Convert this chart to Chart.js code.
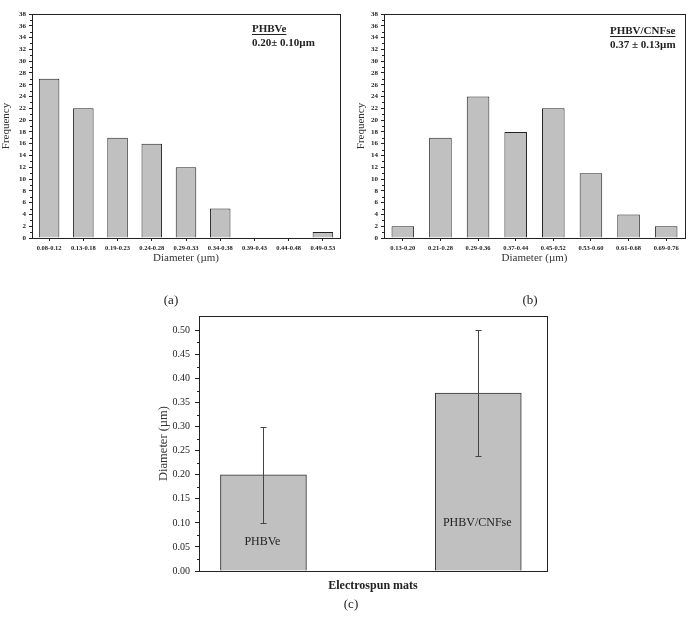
<!DOCTYPE html>
<html>
<head>
<meta charset="utf-8">
<script src="https://cdn.jsdelivr.net/npm/chart.js@4.4.0/dist/chart.umd.min.js"></script>
<style>
  body{margin:0;background:#fff;}
  #wrap{position:relative;width:697px;height:619px;font-family:"Liberation Serif",serif;color:#222;}
  canvas{position:absolute;}
  .cap{position:absolute;font-size:13px;transform:translate(-50%,-50%);white-space:nowrap;}
</style>
</head>
<body>
<div id="wrap">
  <canvas id="chartA" width="345" height="270" style="left:0;top:0"></canvas>
  <canvas id="chartB" width="352" height="270" style="left:345px;top:0"></canvas>
  <canvas id="chartC" width="410" height="295" style="left:150px;top:305px"></canvas>
  <div class="cap" style="left:171px;top:300px">(a)</div>
  <div class="cap" style="left:530px;top:300px">(b)</div>
  <div class="cap" style="left:351px;top:604px">(c)</div>
</div>
<script>
// dados
const binsA = ['0.08-0.12','0.13-0.18','0.19-0.23','0.24-0.28','0.29-0.33','0.34-0.38','0.39-0.43','0.44-0.48','0.49-0.53'];
const freqA = [27, 22, 17, 16, 12, 5, 0, 0, 1];
const binsB = ['0.13-0.20','0.21-0.28','0.29-0.36','0.37-0.44','0.45-0.52','0.53-0.60','0.61-0.68','0.69-0.76'];
const freqB = [2, 17, 24, 18, 22, 11, 4, 2];
const mats = ['PHBVe', 'PHBV/CNFse'];
const meanDiam = [0.20, 0.37];
const sdDiam = [0.10, 0.13];

const SERIF = '"Liberation Serif", "Times New Roman", serif';
const INK = '#222';
Chart.defaults.font.family = SERIF;
Chart.defaults.animation = false;

// moldura + ticks menores
const framePlugin = {
  id: 'frame',
  afterDraw(chart, args, opts){
    const {ctx, chartArea:a, scales:{y}} = chart;
    ctx.save();
    ctx.strokeStyle = INK;
    ctx.lineWidth = 1;
    ctx.strokeRect(Math.round(a.left)+0.5, Math.round(a.top)+0.5, Math.round(a.right-a.left), Math.round(a.bottom-a.top));
    // ticks menores entre os maiores
    const t = y.ticks;
    ctx.beginPath();
    for (let i = 0; i < t.length-1; i++){
      const py = Math.round(y.getPixelForValue((t[i].value + t[i+1].value)/2)) + 0.5;
      ctx.moveTo(a.left - (opts.minor || 2), py);
      ctx.lineTo(a.left, py);
    }
    ctx.stroke();
    ctx.restore();
  }
};

// texto de anotação (nome + média ± dp)
const notesPlugin = {
  id: 'notes',
  afterDraw(chart, args, opts){
    if (!opts.lines) return;
    const ctx = chart.ctx;
    ctx.save();
    ctx.font = 'bold 11px ' + SERIF;
    ctx.fillStyle = INK;
    ctx.textBaseline = 'middle';
    opts.lines.forEach((txt, i) => {
      const y = opts.y + i*14;
      ctx.fillText(txt, opts.x, y);
      if (i === 0){
        const w = ctx.measureText(txt).width;
        ctx.fillRect(opts.x, y + 5, w, 1);
      }
    });
    ctx.restore();
  }
};

function makeHist(id, labels, values, yw, rpad, ytitlePad, notes){
  return new Chart(document.getElementById(id), {
    type: 'bar',
    data: {
      labels,
      datasets: [{
        data: values,
        backgroundColor: '#c0c0c0',
        borderColor: INK,
        borderWidth: 1,
        categoryPercentage: 1,
        barPercentage: 0.6
      }]
    },
    options: {
      responsive: false,
      layout: {padding: {left: 0, right: rpad, top: 14, bottom: 0}},
      plugins: {legend: {display: false}, tooltip: {enabled: false}, notes, frame: {minor: 2}},
      scales: {
        x: {
          offset: true,
          grid: {offset: false, drawOnChartArea: false, tickLength: 3, tickColor: INK},
          border: {display: false},
          ticks: {font: {size: 6.5, weight: 'bold'}, color: INK, maxRotation: 0, autoSkip: false, padding: 3},
          title: {display: true, text: 'Diameter (µm)', font: {size: 11}, color: '#333', padding: {top: 0, bottom: 5}},
          afterFit(s){ s.height = 32; }
        },
        y: {
          min: 0, max: 38,
          grid: {drawOnChartArea: false, tickLength: 3, tickColor: INK},
          border: {display: false},
          ticks: {stepSize: 2, font: {size: 7, weight: 'bold'}, color: INK, padding: 3},
          title: {display: true, text: 'Frequency', font: {size: 11}, color: '#333', padding: {top: ytitlePad, bottom: 0}},
          afterFit(s){ s.width = yw; }
        }
      }
    },
    plugins: [framePlugin, notesPlugin]
  });
}

makeHist('chartA', binsA, freqA, 32, 5, 0, {lines: ['PHBVe', '0.20± 0.10µm'], x: 252, y: 29});
makeHist('chartB', binsB, freqB, 39, 12, 10, {lines: ['PHBV/CNFse', '0.37 ± 0.13µm'], x: 265, y: 31});

// barras de erro e rótulos dentro das barras
const errPlugin = {
  id: 'errbars',
  afterDatasetsDraw(chart, args, opts){
    const {ctx, scales:{y}} = chart;
    const meta = chart.getDatasetMeta(0);
    ctx.save();
    meta.data.forEach((bar, i) => {
      const x = Math.round(bar.x) + 0.5;
      const top = Math.round(y.getPixelForValue(meanDiam[i] + sdDiam[i])) + 0.5;
      const bot = Math.round(y.getPixelForValue(meanDiam[i] - sdDiam[i])) + 0.5;
      ctx.strokeStyle = '#444';
      ctx.lineWidth = 1;
      ctx.beginPath();
      ctx.moveTo(x, top); ctx.lineTo(x, bot);
      ctx.moveTo(x-3, top); ctx.lineTo(x+3, top);
      ctx.moveTo(x-3, bot); ctx.lineTo(x+3, bot);
      ctx.stroke();
      ctx.fillStyle = INK;
      ctx.font = '12px ' + SERIF;
      ctx.textAlign = 'center';
      ctx.textBaseline = 'middle';
      ctx.fillText(mats[i], bar.x - 1, y.bottom - opts.labelUp[i]);
    });
    ctx.restore();
  }
};

new Chart(document.getElementById('chartC'), {
  type: 'bar',
  data: {
    datasets: [{
      data: mats.map((m, i) => ({x: i + 1, y: meanDiam[i]})),
      backgroundColor: '#c0c0c0',
      borderColor: '#333',
      borderWidth: 1,
      barThickness: 86
    }]
  },
  options: {
    responsive: false,
    layout: {padding: {left: 0, right: 13, top: 8, bottom: 0}},
    plugins: {legend: {display: false}, tooltip: {enabled: false}, frame: {minor: 2}, errbars: {labelUp: [29, 48]}},
    scales: {
      x: {
        type: 'linear', min: 0.7, max: 2.32, offset: false,
        grid: {display: false, offset: false},
        border: {display: false},
        ticks: {display: false},
        title: {display: true, text: 'Electrospun mats', font: {size: 12, weight: 'bold'}, color: INK, padding: {top: 0, bottom: 7}},
        afterFit(s){ s.height = 29; }
      },
      y: {
        min: 0, max: 0.53,
        grid: {drawOnChartArea: false, tickLength: 4, tickColor: INK},
        border: {display: false},
        ticks: {stepSize: 0.05, includeBounds: false, font: {size: 10}, color: INK, padding: 5,
          callback: v => Number(v).toFixed(2)},
        title: {display: true, text: 'Diameter (µm)', font: {size: 12.5}, color: '#333', padding: {top: 6, bottom: 0}},
        afterFit(s){ s.width = 49; }
      }
    }
  },
  plugins: [framePlugin, errPlugin]
});
</script>
</body>
</html>
